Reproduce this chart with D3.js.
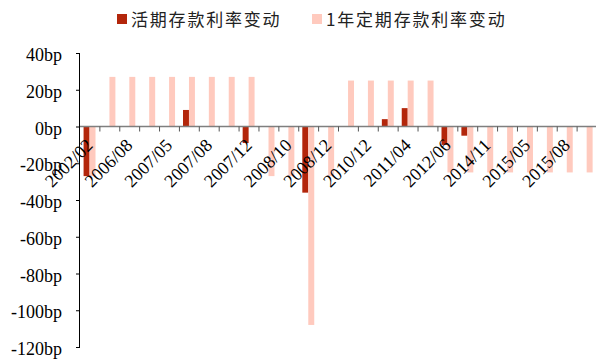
<!DOCTYPE html>
<html>
<head>
<meta charset="utf-8">
<script src="https://cdn.jsdelivr.net/npm/d3@7"></script>
<style>
  html, body { margin: 0; padding: 0; background: #fff; }
  svg { display: block; }
</style>
</head>
<body>
<svg id="chart" width="596" height="360"></svg>
<script>
// Rate adjustment dates (every change of the benchmark deposit rates)
const dates = [
  "2002/02", "2004/10", "2006/08", "2007/03", "2007/05", "2007/07", "2007/08",
  "2007/09", "2007/12", "2008/10", "2008/10 ", "2008/11", "2008/12", "2010/10",
  "2010/12", "2011/02", "2011/04", "2011/07", "2012/06", "2012/07", "2014/11",
  "2015/03", "2015/05", "2015/06", "2015/08", "2015/10"
];
// Change of the demand deposit rate, bp
const demandChange = [
  -27, 0, 0, 0, 0, 9, 0, 0, -9, 0, 0, -36, 0, 0,
  0, 4, 10, 0, -10, -5, 0, 0, 0, 0, 0, 0
];
// Change of the 1-year time deposit rate, bp
const oneYearChange = [
  -27, 27, 27, 27, 27, 27, 27, 27, 27, -27, -27, -108, -27, 25,
  25, 25, 25, 25, -25, -25, -25, -25, -25, -25, -25, -25
];
const seriesNames = ["活期存款利率变动", "1年定期存款利率变动"];
const seriesColors = ["#B3260B", "#FFCABE"];
const yTicks = [40, 20, 0, -20, -40, -60, -80, -100, -120];

const svg = d3.select("#chart");
const plotLeft = 80, plotRight = 597, plotTop = 53, plotBottom = 347;

const x0 = d3.scaleBand().domain(d3.range(dates.length)).range([plotLeft, plotRight]);
const x1 = d3.scaleBand().domain([0, 1])
  .range([x0.bandwidth() * 0.18, x0.bandwidth() * 0.78]);
const y = d3.scaleLinear().domain([-120, 40]).range([plotBottom, plotTop]);

const series = [demandChange, oneYearChange];

// Bars
series.forEach((vals, s) => {
  svg.append("g").selectAll("rect")
    .data(vals.map((v, i) => ({ v, i })))
    .join("rect")
    .attr("x", d => x0(d.i) + x1(s))
    .attr("y", d => y(Math.max(0, d.v)))
    .attr("width", x1.bandwidth())
    .attr("height", d => Math.abs(y(d.v) - y(0)))
    .attr("fill", seriesColors[s]);
});

// Y axis
const yAxis = svg.append("g")
  .attr("transform", `translate(${plotLeft},0)`)
  .call(d3.axisLeft(y).tickValues(yTicks).tickSize(4).tickPadding(14)
    .tickFormat(d => d + "bp"));
yAxis.select(".domain").attr("stroke", "#000").attr("d", `M-0.5,${plotTop}V${plotBottom}`);
yAxis.selectAll(".tick line").attr("stroke", "#000");
yAxis.selectAll(".tick text")
  .attr("font-family", "'Liberation Serif', 'Times New Roman', serif")
  .attr("font-size", 18)
  .attr("fill", "#000")
  .attr("dy", "0.42em");

// Zero line with category boundary ticks
const zeroY = y(0);
svg.append("line")
  .attr("x1", plotLeft).attr("x2", plotRight)
  .attr("y1", zeroY).attr("y2", zeroY)
  .attr("stroke", "#7f7f7f").attr("stroke-width", 1.5);
svg.append("g").selectAll("line")
  .data(d3.range(1, dates.length))
  .join("line")
  .attr("x1", i => x0(i)).attr("x2", i => x0(i))
  .attr("y1", zeroY).attr("y2", zeroY + 5)
  .attr("stroke", "#555").attr("stroke-width", 1);

// Category labels, every other date
svg.append("g").selectAll("text")
  .data(d3.range(0, dates.length, 2))
  .join("text")
  .attr("transform", i => `translate(${x0(i) + x0.bandwidth() / 2 + 4},${zeroY + 20}) rotate(-45)`)
  .attr("text-anchor", "end")
  .attr("font-family", "'Liberation Serif', 'Times New Roman', serif")
  .attr("font-size", 18)
  .attr("fill", "#000")
  .text(i => dates[i].trim());

// Legend
const legendItems = [
  { sx: 117, tx: 131, name: seriesNames[0], color: seriesColors[0] },
  { sx: 312, tx: 326, name: seriesNames[1], color: seriesColors[1] }
];
const legend = svg.append("g");
legend.selectAll("rect")
  .data(legendItems)
  .join("rect")
  .attr("x", d => d.sx).attr("y", 14)
  .attr("width", 10).attr("height", 10)
  .attr("fill", d => d.color);
legend.selectAll("text")
  .data(legendItems)
  .join("text")
  .attr("x", d => d.tx).attr("y", 26)
  .attr("font-family", "'Noto Sans CJK SC', 'Liberation Serif', serif")
  .attr("font-size", 17)
  .attr("letter-spacing", 1.8)
  .attr("fill", "#222")
  .text(d => d.name);
</script>
</body>
</html>
